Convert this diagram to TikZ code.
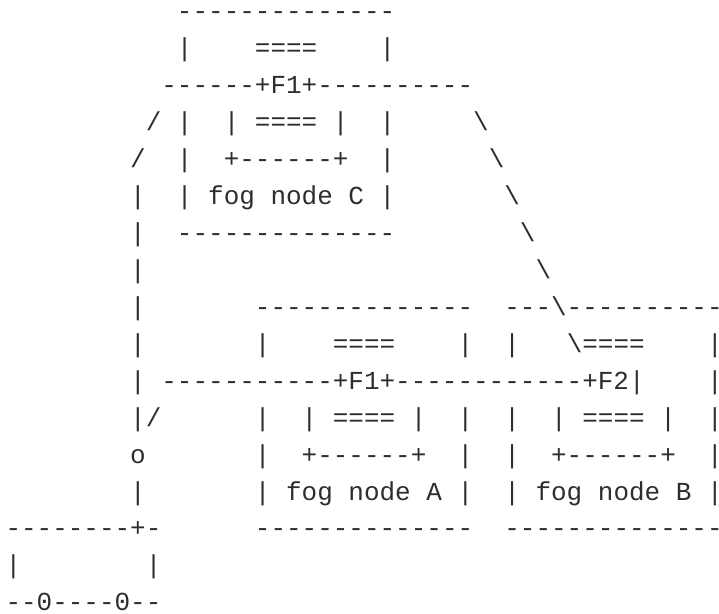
\documentclass[tikz,border=0pt]{standalone}
\usepackage{fontspec}
\setmonofont{Liberation Mono}
\definecolor{ink}{RGB}{45,45,45}
% one monospaced run of characters, placed by text row and character column
\newcommand{\asc}[3]{\node[ascii] (r#1c#2) at ({5.5+15.59*#2},{-(19.65+36.95*#1)}) {#3};}
\tikzset{ascii/.style={anchor=base west, inner sep=0pt, outer sep=0pt, text=ink,
  font=\ttfamily\fontsize{25.98pt}{30pt}\selectfont}}
\begin{document}
\begin{tikzpicture}[x=1pt,y=1pt]
\useasboundingbox (0,0) rectangle (719,-613);
% fog node C with its F1 link
\asc{0}{11}{--------------}
\asc{1}{11}{|}
\asc{1}{16}{====}
\asc{1}{24}{|}
\asc{2}{10}{------+F1+----------}
\asc{3}{9}{/ |}
\asc{3}{14}{| ==== |}
\asc{3}{24}{|}
\asc{3}{30}{\textbackslash}
\asc{4}{8}{/}
\asc{4}{11}{|}
\asc{4}{14}{+------+}
\asc{4}{24}{|}
\asc{4}{31}{\textbackslash}
\asc{5}{8}{|}
\asc{5}{11}{| fog node C |}
\asc{5}{32}{\textbackslash}
\asc{6}{8}{|}
\asc{6}{11}{--------------}
\asc{6}{33}{\textbackslash}
\asc{7}{8}{|}
\asc{7}{34}{\textbackslash}
% fog nodes A and B
\asc{8}{8}{|}
\asc{8}{16}{--------------}
\asc{8}{32}{---\textbackslash----------}
\asc{9}{8}{|}
\asc{9}{16}{|}
\asc{9}{21}{====}
\asc{9}{29}{|}
\asc{9}{32}{|}
\asc{9}{36}{\textbackslash====}
\asc{9}{45}{|}
\asc{10}{8}{| -----------+F1+------------+F2|}
\asc{10}{45}{|}
\asc{11}{8}{|/}
\asc{11}{16}{|}
\asc{11}{19}{| ==== |}
\asc{11}{29}{|}
\asc{11}{32}{|}
\asc{11}{35}{| ==== |}
\asc{11}{45}{|}
\asc{12}{8}{o}
\asc{12}{16}{|}
\asc{12}{19}{+------+}
\asc{12}{29}{|}
\asc{12}{32}{|}
\asc{12}{35}{+------+}
\asc{12}{45}{|}
\asc{13}{8}{|}
\asc{13}{16}{| fog node A |}
\asc{13}{32}{| fog node B |}
% the vehicle below
\asc{14}{0}{--------+-}
\asc{14}{16}{--------------}
\asc{14}{32}{--------------}
\asc{15}{0}{|}
\asc{15}{9}{|}
\asc{16}{0}{--0----0--}
\end{tikzpicture}
\end{document}
